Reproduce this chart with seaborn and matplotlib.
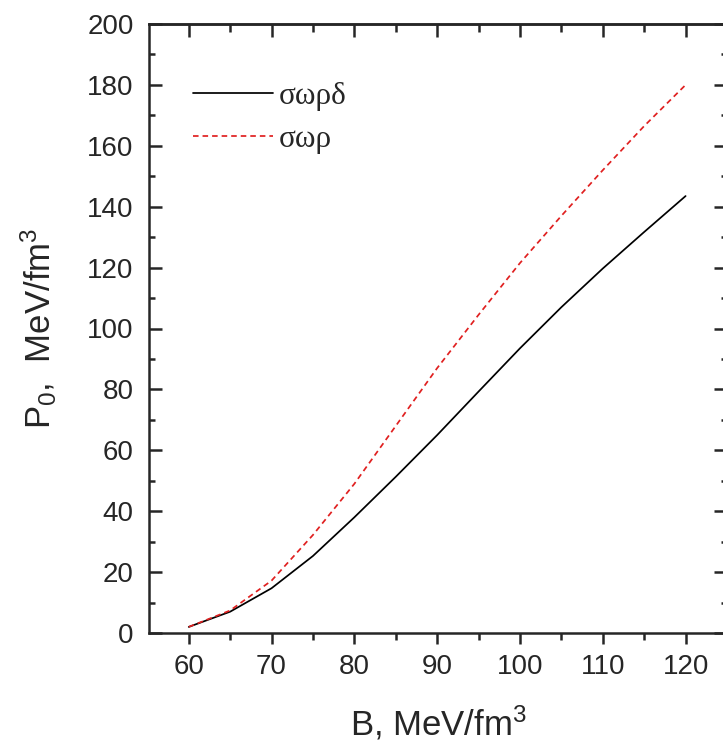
import matplotlib
matplotlib.use("Agg")
import matplotlib.pyplot as plt
import seaborn as sns
import pandas as pd
from matplotlib.ticker import MultipleLocator

B = [60, 65, 70, 75, 80, 85, 90, 95, 100, 105, 110, 115, 120]
p_sord = [2.0, 7.0, 14.7, 25.3, 38.0, 51.3, 65.0, 79.3, 93.5, 107.0, 119.7, 131.7, 143.5]
p_sor = [2.0, 7.4, 17.2, 32.2, 49.0, 68.0, 87.0, 104.5, 121.5, 137.0, 152.0, 166.5, 180.0]
labels = ["σωρδ", "σωρ"]

df = pd.DataFrame({
    "B": B * 2,
    "P": p_sord + p_sor,
    "model": [labels[0]] * len(B) + [labels[1]] * len(B),
})

sns.set_style("ticks")
plt.rcParams["font.family"] = ["Liberation Sans", "DejaVu Sans"]
plt.rcParams["mathtext.fontset"] = "custom"
plt.rcParams["mathtext.rm"] = "Liberation Sans"
plt.rcParams["mathtext.it"] = "Liberation Sans"
plt.rcParams["mathtext.default"] = "rm"

fig = plt.figure(figsize=(7.23, 7.43), dpi=100)
ax = fig.add_axes([149 / 723, 110 / 743, 578 / 723, 609 / 743])

sns.lineplot(data=df, x="B", y="P", hue="model", style="model",
             palette={labels[0]: "black", labels[1]: "#e02020"},
             dashes={labels[0]: "", labels[1]: (3.2, 2.3)},
             linewidth=1.25, ax=ax, legend=True)

ax.set_xlim(55.2, 125)
ax.set_ylim(0, 200)
ax.xaxis.set_major_locator(MultipleLocator(10))
ax.xaxis.set_minor_locator(MultipleLocator(5))
ax.yaxis.set_major_locator(MultipleLocator(20))
ax.yaxis.set_minor_locator(MultipleLocator(10))

for s in ax.spines.values():
    s.set_linewidth(1.8)
    s.set_visible(True)

ax.tick_params(axis="x", which="both", direction="out", width=1.8, labelsize=20, pad=7,
               top=False)
ax.tick_params(axis="x", which="major", length=8)
ax.tick_params(axis="x", which="minor", length=5)
ax.tick_params(axis="y", which="both", direction="in", width=1.8, labelsize=20, pad=11,
               right=True)
ax.tick_params(axis="y", which="major", length=9.5)
ax.tick_params(axis="y", which="minor", length=4.5)

sec = ax.secondary_xaxis("top")
sec.xaxis.set_major_locator(MultipleLocator(10))
sec.xaxis.set_minor_locator(MultipleLocator(5))
sec.tick_params(axis="x", which="both", direction="in", width=1.8, labeltop=False)
sec.tick_params(axis="x", which="major", length=9.5)
sec.tick_params(axis="x", which="minor", length=5.5)
sec.spines["top"].set_linewidth(1.8)

ax.set_xlabel("B, MeV/fm$^3$", fontsize=25, labelpad=17)
ax.set_ylabel("P$_0$,  MeV/fm$^3$", fontsize=25, labelpad=20)

leg = ax.legend(loc="upper left", bbox_to_anchor=(0.076, 0.905), frameon=False,
                handlelength=2.55, handletextpad=0.2, labelspacing=0.45,
                borderaxespad=0, borderpad=0,
                prop={"family": "Liberation Serif", "size": 22.5})
for h in leg.get_lines():
    h.set_linewidth(1.25)

fig.savefig("out.png", dpi=100)
